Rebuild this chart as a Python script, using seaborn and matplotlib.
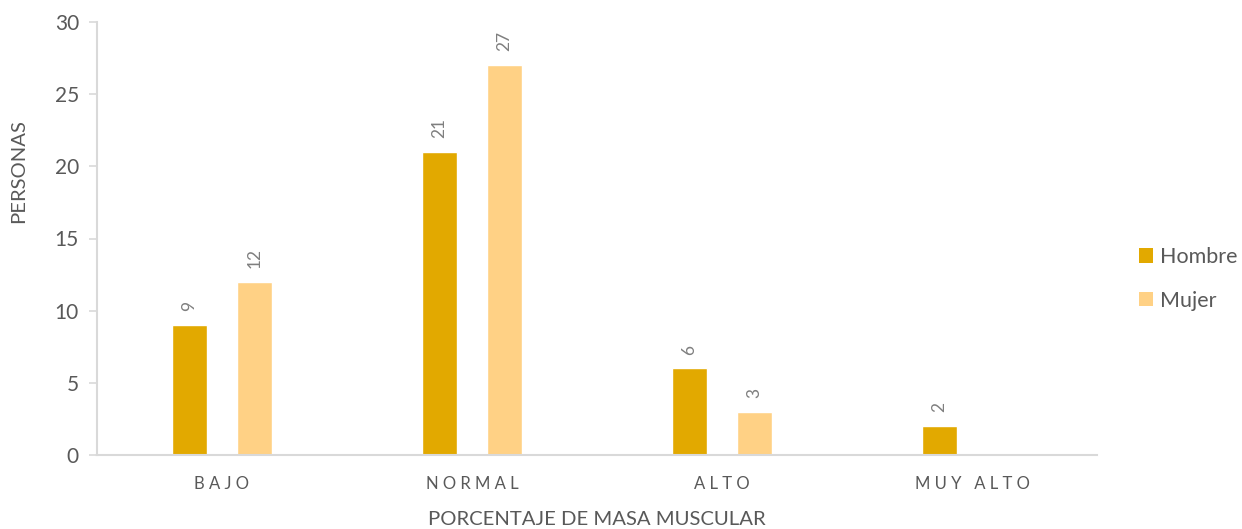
import matplotlib
matplotlib.use("Agg")
import matplotlib.pyplot as plt
import seaborn as sns
import pandas as pd
import numpy as np
from matplotlib.patches import Patch

categories = ["BAJO", "NORMAL", "ALTO", "MUY ALTO"]
hombre = [9, 21, 6, 2]
mujer = [12, 27, 3, np.nan]
series_names = ["Hombre", "Mujer"]
colors = ["#E2A900", "#FFD185"]

df = pd.DataFrame({
    "cat": categories * 2,
    "sexo": [series_names[0]] * 4 + [series_names[1]] * 4,
    "val": hombre + mujer,
})

sns.set_theme(style="white")
plt.rcParams["font.family"] = ["Lato", "DejaVu Sans"]
txt = "#595959"
grid = "#D9D9D9"

fig = plt.figure(figsize=(12.42, 5.29), dpi=100)
ax = fig.add_axes([97 / 1242, 74 / 529, 1000 / 1242, 433 / 529])

sns.barplot(data=df, x="cat", y="val", hue="sexo", order=categories,
            hue_order=series_names, palette=colors, width=0.52, gap=0.47,
            ax=ax, legend=False, errorbar=None, saturation=1)

for cont in ax.containers:
    labels = ["" if (np.isnan(v) or v == 0) else f"{v:g}" for v in cont.datavalues]
    ax.bar_label(cont, labels=labels, rotation=90, padding=10,
                 color="#7F7F7F", fontsize=12.5)

ax.set_ylim(0, 30)
ax.set_yticks(range(0, 31, 5))
ax.set_xlim(-0.5, 3.5)
ax.set_xticks(range(len(categories)))
ax.set_xticklabels([" ".join(c) for c in categories], fontsize=12, color=txt)
ax.tick_params(axis="y", labelsize=15, labelcolor=txt, length=6, color=grid,
               width=1.2, left=True, pad=7)
ax.tick_params(axis="x", length=0, pad=15)

for s in ["top", "right"]:
    ax.spines[s].set_visible(False)
for s in ["left", "bottom"]:
    ax.spines[s].set_color(grid)
    ax.spines[s].set_linewidth(1.5)

ax.set_ylabel("PERSONAS", fontsize=14.6, color=txt)
ax.yaxis.set_label_coords(-0.070, 0.655)
ax.set_xlabel("PORCENTAJE DE MASA MUSCULAR", fontsize=14.6, color=txt, labelpad=14)

handles = [Patch(facecolor=c, edgecolor="none") for c in colors]
fig.legend(handles, series_names, loc="center left",
           bbox_to_anchor=(1120 / 1242, 1 - 279 / 529), frameon=False,
           fontsize=15.5, labelcolor=txt, handlelength=0.65, handleheight=0.65,
           handletextpad=0.3, labelspacing=1.1)

fig.savefig("out.png", dpi=100)
